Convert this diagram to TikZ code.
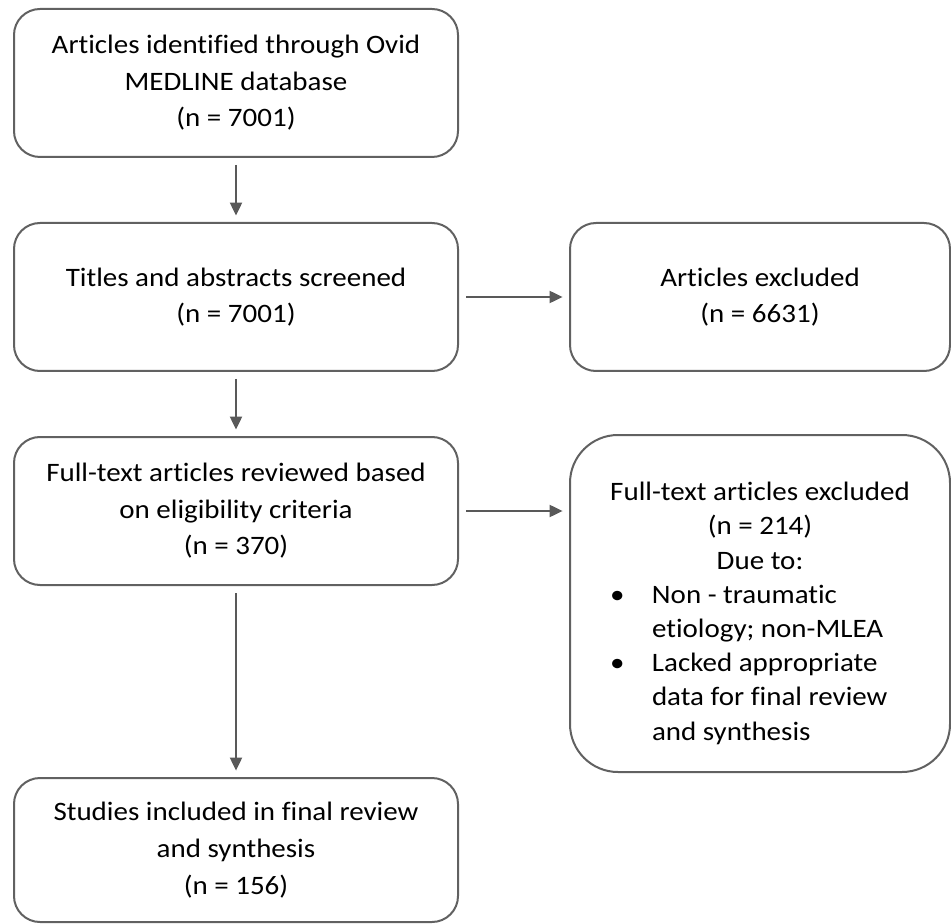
\documentclass[tikz,border=0pt]{standalone}
\usepackage{fontspec}
\setmainfont{Carlito}[FakeStretch=1.09, Ligatures=NoCommon]
\usetikzlibrary{arrows.meta}

\tikzset{
  box/.style={draw=black!62, line width=1pt, rounded corners=13pt, align=center,
    minimum width=222pt, minimum height=74pt, inner sep=0pt,
    font=\fontsize{13.3}{18.3}\selectfont},
  arr/.style={draw=black!65, line width=1pt, -{Triangle[length=6.5pt,width=6pt]},
    shorten <=3.5pt, shorten >=3.2pt}
}
\newcommand{\bulletline}[1]{\makebox[21pt][l]{\textbullet}#1}

\begin{document}
\begin{tikzpicture}[x=0.5pt, y=-0.5pt, line join=round]
      \useasboundingbox (0,0) rectangle (951,924);

      \node[box] (ident) at (236,83) {Articles identified through Ovid\\ MEDLINE database\\ (n = 7001)};
      \node[box] (screen) at (236,297) {Titles and abstracts screened\\ (n = 7001)};
      \node[box] (review) at (236,511) {Full-text articles reviewed based\\ on eligibility criteria\\ (n = 370)};
      \node[box, minimum height=72pt] (incl) at (236,850) {Studies included in final review\\ and synthesis\\ (n = 156)};

      \node[box, minimum width=190pt] (excl) at (760,297) {Articles excluded\\ (n = 6631)};
      \node[box, minimum width=190pt, minimum height=168.5pt, rounded corners=24pt, align=left,
        font=\fontsize{13.3}{17.1}\selectfont]
        (fulltext) at (760,603.5) {\rule{0pt}{19pt}\makebox[150pt][c]{Full-text articles excluded}\\
        \makebox[150pt][c]{(n = 214)}\\
        \makebox[150pt][c]{Due to:}\\
        \bulletline{Non - traumatic}\\
        \hspace*{21pt}etiology; non-MLEA\\
        \bulletline{Lacked appropriate}\\
        \hspace*{21pt}data for final review\\
        \hspace*{21pt}and synthesis};

      % flow down the left
      \draw[arr] (ident) -- (screen);
      \draw[arr] (screen) -- (review);
      \draw[arr] (review) -- (incl);

      % exclusions
      \draw[arr] (screen) -- (excl);
      \draw[arr] (review.east) -- (review.east -| fulltext.west);
    \end{tikzpicture}
\end{document}
